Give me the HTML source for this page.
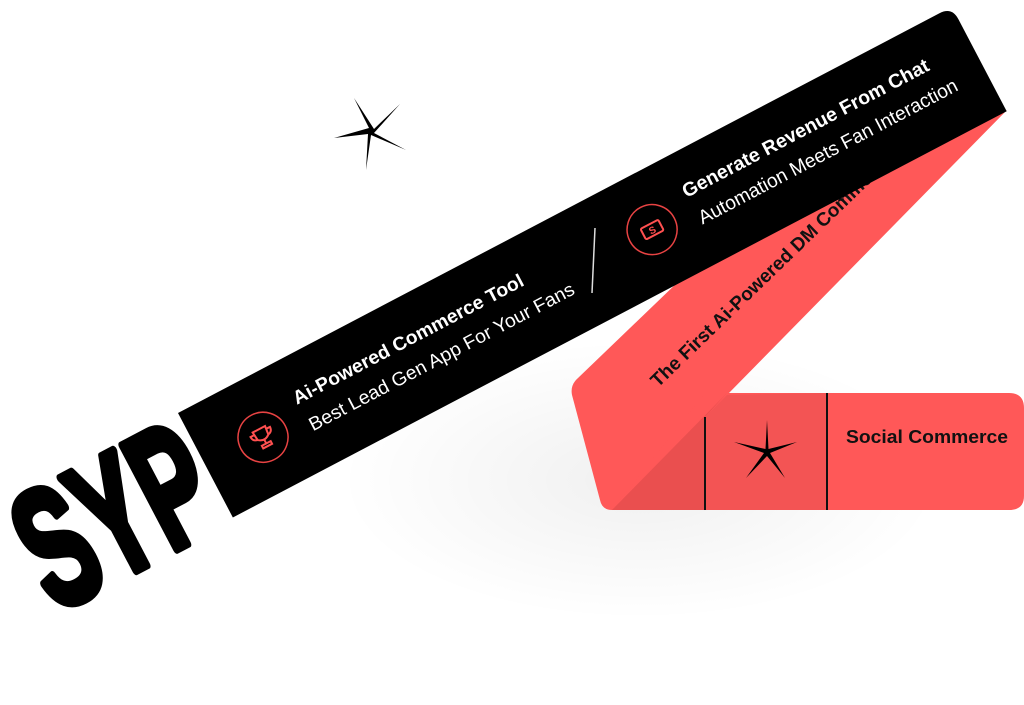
<!DOCTYPE html>
<html><head><meta charset="utf-8"><style>
html,body{margin:0;padding:0;background:#fff;width:1024px;height:705px;overflow:hidden}
svg{display:block}
text{font-family:"Liberation Sans",sans-serif}
</style></head><body>
<svg width="1024" height="705" viewBox="0 0 1024 705" xmlns="http://www.w3.org/2000/svg">
<defs>
<radialGradient id="sh" cx="0.5" cy="0.5" r="0.5">
<stop offset="0" stop-color="#000" stop-opacity="0.06"/>
<stop offset="1" stop-color="#000" stop-opacity="0"/>
</radialGradient>
</defs>
<ellipse cx="640" cy="480" rx="300" ry="140" fill="url(#sh)"/>
<path d="M1007,110 L727,395 L727,510 L612,510 Q602,510 600,500 L572,395 Q570,385 578,378 L680,280 Z" fill="#ff5858"/>
<path d="M705,393 L1009,393 Q1024,393 1024,408 L1024,496 Q1024,510 1009,510 L612,510 Z" fill="#ff5858"/>
<path d="M727,393 L612,510 L705,510 L705,417 Z" fill="#ea4f4f"/>
<path d="M705,417 L727,395 L827,393 L827,510 L705,510 Z" fill="#f35454"/>
<line x1="705" y1="417" x2="705" y2="510" stroke="#111" stroke-width="2"/>
<line x1="827" y1="393" x2="827" y2="510" stroke="#111" stroke-width="2"/>
<text x="846" y="443" font-size="18" font-weight="bold" fill="#111" textLength="162" lengthAdjust="spacingAndGlyphs">Social Commerce</text>
<text transform="translate(658,388) rotate(-44)" font-size="19" font-weight="bold" fill="#111">The First Ai-Powered DM Commerce</text>
<g transform="translate(178,413) rotate(-27.7)">
<path d="M0,0 L860,0 Q874,0 874,14 L874,118 L0,118 Z" fill="#000"/>
<circle cx="64" cy="61" r="25" fill="none" stroke="#e84343" stroke-width="1.5"/>
<g transform="translate(64,61)" fill="none" stroke="#ff5050" stroke-width="2">
<path d="M-7,-9 L7,-9 L6,0 Q0,5 -6,0 Z"/>
<path d="M-7,-6 L-11,-6 Q-11,-1 -6,0 M7,-6 L11,-6 Q11,-1 6,0"/>
<path d="M0,3 L0,7 M-5,10 L5,10 L5,7 L-5,7 Z"/>
</g>
<text x="109" y="48" font-size="19" font-weight="bold" fill="#fff" textLength="258" lengthAdjust="spacingAndGlyphs">Ai-Powered Commerce Tool</text>
<text x="111" y="79" font-size="19" fill="#fff" textLength="297" lengthAdjust="spacingAndGlyphs">Best Lead Gen App For Your Fans</text>
<circle cx="505" cy="58" r="25" fill="none" stroke="#e84343" stroke-width="1.5"/>
<g transform="translate(505,58)" fill="none" stroke="#ff5050" stroke-width="2">
<rect x="-10" y="-6" width="20" height="12" rx="1.5"/>
<text x="0" y="4" font-size="10" font-weight="bold" fill="#ff5050" stroke="none" text-anchor="middle">S</text>
</g>
<text x="550" y="46" font-size="19.5" font-weight="bold" fill="#fff" textLength="276" lengthAdjust="spacingAndGlyphs">Generate Revenue From Chat</text>
<text x="552" y="77" font-size="19.5" fill="#fff" textLength="290" lengthAdjust="spacingAndGlyphs">Automation Meets Fan Interaction</text>
<text x="-7" y="120" font-size="170" font-weight="bold" fill="#000" stroke="#000" stroke-width="9" stroke-linejoin="round" text-anchor="end" textLength="195" lengthAdjust="spacingAndGlyphs">SYP</text>
</g>
<line x1="595" y1="228" x2="592" y2="293" stroke="#ddd" stroke-width="1.5"/>
<g fill="#000">
<path d="M354,98 L374,129 L400,104 L374,133 L406,150 L371,135 L366,170 L368,134 L334,138 L369,128 Z"/>
<path d="M767,420 L768.5,449 L797,442 L770,453 L785,478 L767,456 L746,478 L764,453 L734,442 L765.5,449 Z"/>
</g>
</svg>
</body></html>
